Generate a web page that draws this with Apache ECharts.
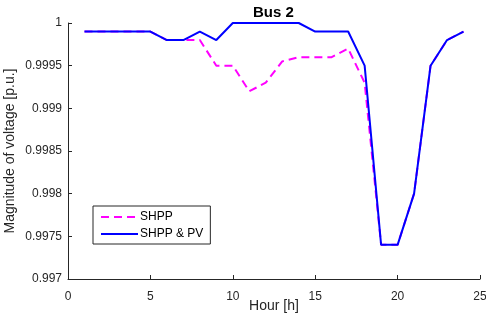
<!DOCTYPE html>
<html><head><meta charset="utf-8">
<script src="https://cdn.jsdelivr.net/npm/echarts@6/dist/echarts.min.js"></script>
<style>html,body{margin:0;padding:0;background:#fff}#c{width:486px;height:314px}</style>
</head><body><div id="c"></div>
<script>
const hours = [1,2,3,4,5,6,7,8,9,10,11,12,13,14,15,16,17,18,19,20,21,22,23,24];
const shpp = [0.9999,0.9999,0.9999,0.9999,0.9999,0.9998,0.9998,0.9998,0.9995,0.9995,0.9992,0.9993,0.99955,0.9996,0.9996,0.9996,0.9997,0.9993,0.9974,0.9974,0.9980,0.9995,0.9998,0.9999];
const shppPv = [0.9999,0.9999,0.9999,0.9999,0.9999,0.9998,0.9998,0.9999,0.9998,1.0,1.0,1.0,1.0,1.0,0.9999,0.9999,0.9999,0.9995,0.9974,0.9974,0.9980,0.9995,0.9998,0.9999];
const seriesNames = ['SHPP','SHPP & PV'];
const title = 'Bus 2';
const xLabel = 'Hour [h]';
const yLabel = 'Magnitude of voltage [p.u.]';

const font = 'Liberation Sans, Arial, sans-serif';
const chart = echarts.init(document.getElementById('c'));
chart.setOption({
  animation:false,
  title:{text:title,left:248,top:0,textStyle:{fontFamily:font,fontSize:15,fontWeight:'bold',color:'#000'}},
  grid:{left:68,right:6,top:23,bottom:35,containLabel:false,outerBoundsMode:'none'},
  legend:{left:93,top:206,orient:'vertical',itemWidth:37,itemHeight:12,itemGap:5,padding:[5,7,4,7],
    borderColor:'#262626',borderWidth:1,backgroundColor:'#fff',itemStyle:{opacity:0},
    textStyle:{fontFamily:font,fontSize:12,color:'#000',padding:[0,0,0,-3]},data:seriesNames},
  xAxis:{type:'value',min:0,max:25,interval:5,name:xLabel,nameLocation:'middle',nameGap:20,nameMoveOverlap:false,
    nameTextStyle:{fontFamily:font,fontSize:14,color:'#262626',verticalAlign:'top'},
    axisLine:{show:true,onZero:false,lineStyle:{color:'#262626'}},
    axisTick:{show:true,inside:true,length:4,lineStyle:{color:'#262626'}},
    axisLabel:{fontFamily:font,fontSize:12,color:'#262626',margin:12},
    splitLine:{show:false}},
  yAxis:{type:'value',min:0.997,max:1,interval:0.0005,name:yLabel,nameLocation:'middle',nameGap:51,nameMoveOverlap:false,
    nameTextStyle:{fontFamily:font,fontSize:14,color:'#262626'},
    axisLine:{show:true,lineStyle:{color:'#262626'}},
    axisTick:{show:true,inside:true,length:4,lineStyle:{color:'#262626'}},
    axisLabel:{fontFamily:font,fontSize:12,color:'#262626',margin:6,formatter:v=>String(+v.toFixed(4))},
    splitLine:{show:false}},
  series:[
    {name:seriesNames[0],type:'line',data:hours.map((h,i)=>[h,shpp[i]]),symbol:'none',
     lineStyle:{color:'#ff00ff',width:2,type:[8,5]},itemStyle:{color:'#ff00ff'}},
    {name:seriesNames[1],type:'line',data:hours.map((h,i)=>[h,shppPv[i]]),symbol:'none',
     lineStyle:{color:'#0000ff',width:2},itemStyle:{color:'#0000ff'}}
  ]
});
</script></body></html>
